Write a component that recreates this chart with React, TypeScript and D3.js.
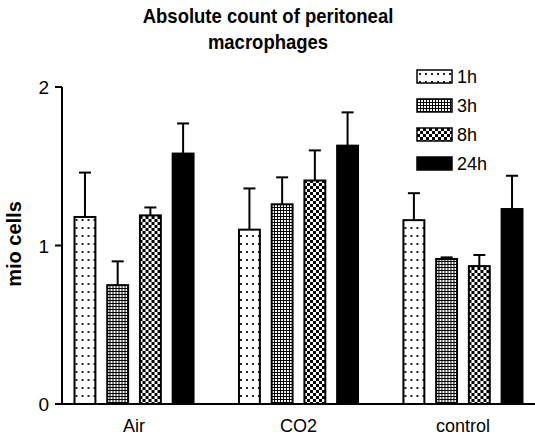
import * as d3 from 'd3';

const groups = ["Air", "CO2", "control"];
const series = ["1h", "3h", "8h", "24h"];
// mean values per group, in series order
const airMeans = [1.18, 0.75, 1.19, 1.58];
const co2Means = [1.1, 1.26, 1.41, 1.63];
const controlMeans = [1.16, 0.915, 0.87, 1.23];
// upper error (SD) per group
const airErr = [0.28, 0.15, 0.05, 0.19];
const co2Err = [0.26, 0.17, 0.19, 0.21];
const controlErr = [0.17, 0.01, 0.07, 0.21];
const yTicks = [0, 1, 2];

const W = 535;
const H = 438;
const font = "'Liberation Sans', Arial, sans-serif";

export default function App() {
  const means = [airMeans, co2Means, controlMeans];
  const errs = [airErr, co2Err, controlErr];

  const y = d3.scaleLinear().domain([0, 2]).range([404, 87]);
  const x0 = d3.scaleBand().domain(groups).range([62, 535]).paddingInner(0.264).paddingOuter(0.07);
  const x1 = d3.scaleBand().domain(series).range([0, x0.bandwidth()]).paddingInner(0.3);
  const fills = ["url(#p1h)", "url(#p3h)", "url(#p8h)", "#000"];

  return (
    <svg width={W} height={H} style={{ position: 'absolute', left: 0, top: 0, background: '#fff' }}>
      <defs>
        <pattern id="p1h" width={6} height={8} patternUnits="userSpaceOnUse">
          <rect width={6} height={8} fill="#fff" />
          <rect x={2} y={3} width={2} height={2} fill="#222" />
        </pattern>
        <pattern id="p3h" width={3} height={3} patternUnits="userSpaceOnUse">
          <rect width={3} height={3} fill="#000" />
          <rect x={1} y={1} width={2} height={2} fill="#fff" />
        </pattern>
        <pattern id="p8h" width={6} height={6} patternUnits="userSpaceOnUse">
          <rect width={6} height={6} fill="#fff" />
          <rect x={0} y={0} width={3} height={3} fill="#000" />
          <rect x={3} y={3} width={3} height={3} fill="#000" />
        </pattern>
      </defs>

      {/* title, slightly condensed */}
      <g transform="translate(268,0) scale(0.925,1)">
        <text x={0} y={23} textAnchor="middle" fontFamily={font} fontWeight="bold" fontSize={20}>
          Absolute count of peritoneal
        </text>
        <text x={0} y={49} textAnchor="middle" fontFamily={font} fontWeight="bold" fontSize={20}>
          macrophages
        </text>
      </g>

      {/* y label */}
      <text transform="translate(21,244) rotate(-90)" textAnchor="middle" fontFamily={font} fontWeight="bold" fontSize={20}>
        mio cells
      </text>

      {/* bars */}
      {groups.map((g, gi) => (
        <g key={g} transform={`translate(${x0(g)},0)`}>
          {series.map((s, si) => {
            const v = means[gi][si];
            const e = errs[gi][si];
            const bx = x1(s)!;
            const cx = bx + x1.bandwidth() / 2;
            return (
              <g key={s}>
                <line x1={cx} x2={cx} y1={y(v)} y2={y(v + e)} stroke="#000" strokeWidth={2} />
                <line x1={cx - 6} x2={cx + 6} y1={y(v + e)} y2={y(v + e)} stroke="#000" strokeWidth={2} />
                <rect x={bx + 1} y={y(v)} width={x1.bandwidth() - 2} height={y(0) - y(v)}
                  fill={fills[si]} stroke="#000" strokeWidth={2} />
              </g>
            );
          })}
          <text x={x0.bandwidth() / 2} y={432} textAnchor="middle" fontFamily={font} fontSize={18}>{g}</text>
        </g>
      ))}

      {/* axes */}
      <line x1={62} x2={62} y1={y(2)} y2={y(0)} stroke="#000" strokeWidth={2} />
      <line x1={55} x2={535} y1={y(0)} y2={y(0)} stroke="#000" strokeWidth={2} />
      {yTicks.map(t => (
        <g key={t}>
          <line x1={55} x2={62} y1={y(t)} y2={y(t)} stroke="#000" strokeWidth={2} />
          <text x={49} y={y(t) + 7} textAnchor="end" fontFamily={font} fontSize={19}>{t}</text>
        </g>
      ))}

      {/* legend */}
      {series.map((s, si) => (
        <g key={s} transform={`translate(417,${70 + si * 29})`}>
          <rect x={0} y={0} width={35} height={13} fill={fills[si]} stroke="#000" strokeWidth={1.5} />
          <text x={40} y={13} fontFamily={font} fontSize={18}>{s}</text>
        </g>
      ))}
    </svg>
  );
}
